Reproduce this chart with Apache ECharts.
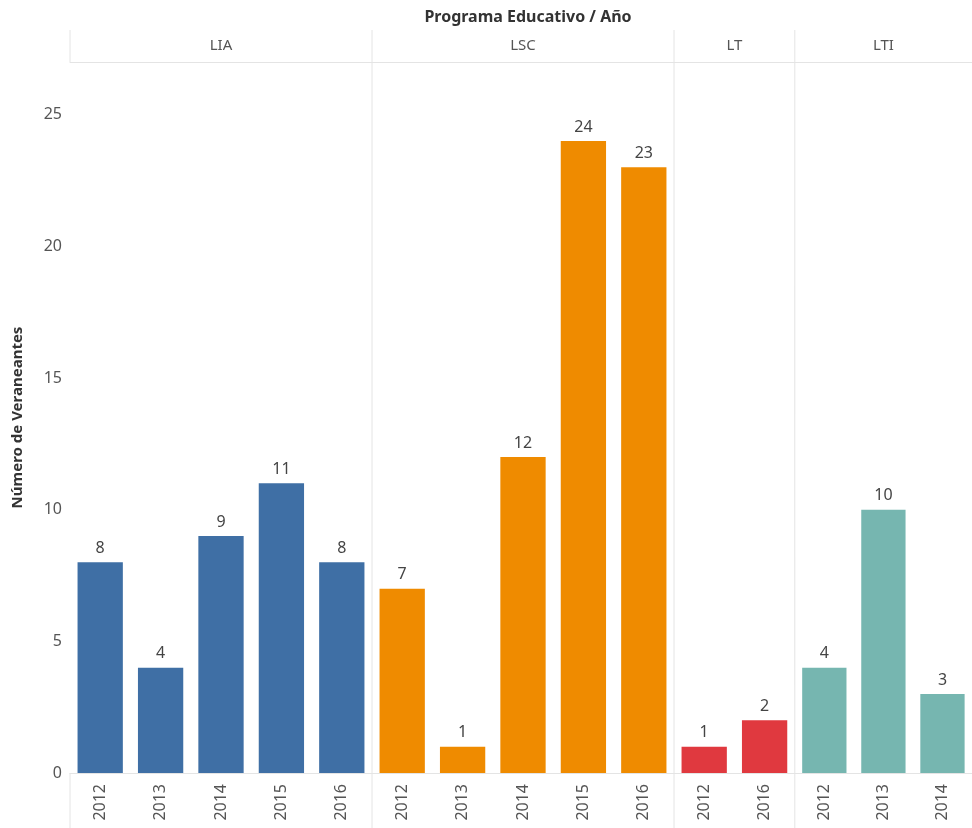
<!DOCTYPE html>
<html>
<head>
<meta charset="utf-8">
<script src="https://cdn.jsdelivr.net/npm/echarts@6/dist/echarts.min.js"></script>
<style>html,body{margin:0;padding:0;background:#fff;}#c{width:972px;height:828px;}</style>
</head>
<body>
<div id="c"></div>
<script>
const programs = ['LIA', 'LSC', 'LT', 'LTI'];
const yearsLIA = ['2012', '2013', '2014', '2015', '2016'];
const yearsLSC = ['2012', '2013', '2014', '2015', '2016'];
const yearsLT = ['2012', '2016'];
const yearsLTI = ['2012', '2013', '2014'];
const valuesLIA = [8, 4, 9, 11, 8];
const valuesLSC = [7, 1, 12, 24, 23];
const valuesLT = [1, 2];
const valuesLTI = [4, 10, 3];
const programColors = ['#3f6fa5', '#ef8b00', '#e0393f', '#76b6b0'];
const yTicks = [0, 5, 10, 15, 20, 25];

const years = [yearsLIA, yearsLSC, yearsLT, yearsLTI];
const values = [valuesLIA, valuesLSC, valuesLT, valuesLTI];

const font = 'Noto Sans';
const L = 70, W = 60.4, TOP = 62, H = 711, YMAX = 27;
const grids = [], xAxes = [], yAxes = [], series = [], graphics = [];
let cum = 0;
programs.forEach((p, i) => {
  const n = years[i].length;
  const left = L + W * cum;
  grids.push({left: left, top: TOP, width: W * n, height: H});
  xAxes.push({
    type: 'category', gridIndex: i, data: years[i], position: 'bottom',
    axisLine: {lineStyle: {color: '#e4e4e4'}}, axisTick: {show: false},
    axisLabel: {rotate: 90, fontSize: 16, color: '#555', margin: 11, fontFamily: font}
  });
  xAxes.push({
    type: 'category', gridIndex: i, data: [p], position: 'top',
    axisLine: {lineStyle: {color: '#e4e4e4'}}, axisTick: {show: false},
    axisLabel: {fontSize: 15, color: '#555', margin: 9, fontFamily: font}
  });
  yAxes.push({
    type: 'value', gridIndex: i, min: 0, max: YMAX, interval: 5,
    show: i === 0,
    name: i === 0 ? 'Número de Veraneantes' : '',
    nameLocation: 'middle', nameGap: 45,
    nameTextStyle: {fontSize: 15, fontWeight: 'bold', color: '#333', fontFamily: font},
    axisLine: {show: false}, axisTick: {show: false},
    splitLine: {show: false},
    axisLabel: {fontSize: 16, color: '#555', margin: 8, fontFamily: font, showMaxLabel: false,
      formatter: v => yTicks.includes(v) ? String(v) : ''}
  });
  series.push({
    type: 'bar', xAxisIndex: 2 * i, yAxisIndex: i, data: values[i],
    barCategoryGap: '25%',
    itemStyle: {color: programColors[i]},
    label: {show: true, position: 'top', distance: 6, fontSize: 16, color: '#444', fontFamily: font}
  });
  if (i === 0) {
    graphics.push({type: 'line', shape: {x1: left, y1: 30, x2: left, y2: TOP}, style: {stroke: '#e4e4e4', lineWidth: 1}});
    graphics.push({type: 'line', shape: {x1: left, y1: TOP + H, x2: left, y2: 828}, style: {stroke: '#e4e4e4', lineWidth: 1}});
  } else {
    graphics.push({type: 'line', shape: {x1: left, y1: 30, x2: left, y2: 828}, style: {stroke: '#e4e4e4', lineWidth: 1}});
  }
  cum += n;
});

const chart = echarts.init(document.getElementById('c'));
chart.setOption({
  backgroundColor: '#fff',
  animation: false,
  title: {
    text: 'Programa Educativo / Año', left: L + W * cum / 2, top: 4, textAlign: 'center',
    textStyle: {fontSize: 16, fontWeight: 'bold', color: '#333', fontFamily: font}
  },
  grid: grids,
  xAxis: xAxes,
  yAxis: yAxes,
  series: series,
  graphic: graphics
});
</script>
</body>
</html>
